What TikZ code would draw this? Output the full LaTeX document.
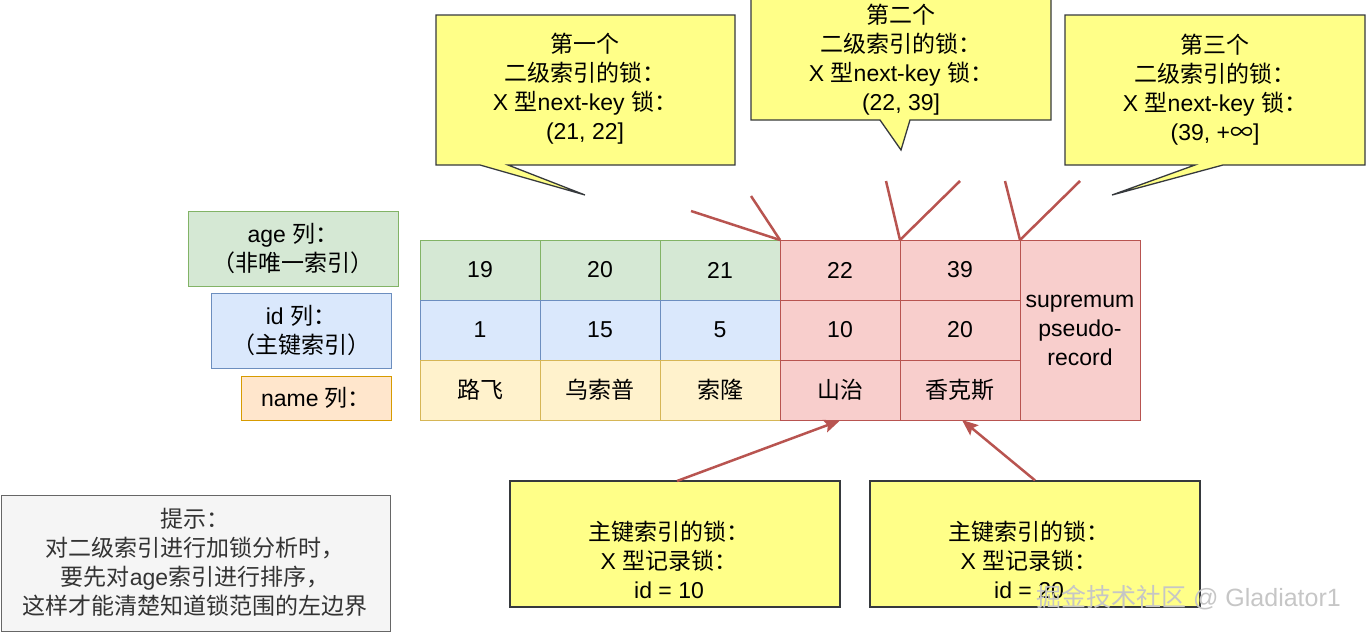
\documentclass[tikz,border=0pt]{standalone}
\usepackage{fontspec}
\setmainfont{Liberation Sans}
\newfontfamily\cjk{Noto Sans CJK SC}
\newcommand{\zh}[1]{{\cjk #1}}
\usetikzlibrary{arrows.meta}
\definecolor{fG}{HTML}{D5E8D4}\definecolor{dG}{HTML}{82B366}
\definecolor{fB}{HTML}{DAE8FC}\definecolor{dB}{HTML}{6C8EBF}
\definecolor{fY}{HTML}{FFF2CC}\definecolor{dY}{HTML}{D6B656}
\definecolor{fR}{HTML}{F8CECC}\definecolor{dR}{HTML}{B85450}
\definecolor{fO}{HTML}{FFE6CC}\definecolor{dO}{HTML}{D79B00}
\definecolor{noteF}{HTML}{FFFF88}\definecolor{noteD}{HTML}{36393D}
\definecolor{hintF}{HTML}{F5F5F5}\definecolor{hintD}{HTML}{666666}
\definecolor{txt}{HTML}{333333}
\tikzset{
  cell/.style={minimum width=120pt, minimum height=60pt, inner sep=0pt, line width=1pt, anchor=center},
  cg/.style={cell, draw=dG, fill=fG},
  cb/.style={cell, draw=dB, fill=fB},
  cy/.style={cell, draw=dY, fill=fY},
  cr/.style={cell, draw=dR, fill=fR},
  notebox/.style={draw=noteD, fill=noteF, line width=1.3pt, line join=miter},
  plain/.style={align=center, inner sep=0pt},
  redline/.style={draw=dR, line width=2.5pt},
  redarrow/.style={draw=dR, line width=2.5pt, -{Stealth[length=16pt,width=13pt,inset=3pt]}},
}
\begin{document}
\begin{tikzpicture}[x=1pt,y=-1pt,font=\fontsize{23}{29}\selectfont]
\useasboundingbox (0,0) rectangle (1367,632);

% labels
\node[draw=dG, fill=fG, line width=1pt, minimum width=210pt, minimum height=75pt, align=center, inner sep=0pt] (lage) at (293,248.5) {age \zh{列：}\\\zh{（非唯一索引）}};
\node[draw=dB, fill=fB, line width=1pt, minimum width=180pt, minimum height=75pt, align=center, inner sep=0pt] (lid) at (301,330.5) {id \zh{列：}\\\zh{（主键索引）}};
\node[draw=dO, fill=fO, line width=1pt, minimum width=150pt, minimum height=44pt, align=center, inner sep=0pt] (lname) at (316,398) {name \zh{列：}};

% table
\node[cg] (a1) at (480,270) {19};
\node[cg] (a2) at (600,270) {20};
\node[cg] (a3) at (720,270) {21};
\node[cb] (b1) at (480,330) {1};
\node[cb] (b2) at (600,330) {15};
\node[cb] (b3) at (720,330) {5};
\node[cy] (n1) at (480,390) {\zh{路飞}};
\node[cy] (n2) at (600,390) {\zh{乌索普}};
\node[cy] (n3) at (720,390) {\zh{索隆}};
\node[cr] (a4) at (840,270) {22};
\node[cr] (a5) at (960,270) {39};
\node[cr] (b4) at (840,330) {10};
\node[cr] (b5) at (960,330) {20};
\node[cr] (n4) at (840,390) {\zh{山治}};
\node[cr] (n5) at (960,390) {\zh{香克斯}};
\node[cr, minimum height=180pt, align=center] (sup) at (1080,330) {supremum\\pseudo-\\record};

% callouts (shapes)
\path[notebox] (436,15) -- (735,15) -- (735,165) -- (508,165) -- (585,195) -- (480,165) -- (436,165) -- cycle;
\path[notebox] (751,-2) -- (1051,-2) -- (1051,120) -- (910,120) -- (901,150) -- (880,120) -- (751,120) -- cycle;
\path[notebox] (1065,15) -- (1365,15) -- (1365,165) -- (1223,165) -- (1112,195) -- (1195,165) -- (1065,165) -- cycle;
\node[plain] (c1) at (585,89) {\zh{第一个}\\\zh{二级索引的锁：}\\X \zh{型}next-key \zh{锁：}\\(21, 22]};
\node[plain] (c2) at (901,60) {\zh{第二个}\\\zh{二级索引的锁：}\\X \zh{型}next-key \zh{锁：}\\(22, 39]};
\node[plain] (c3) at (1215,90) {\zh{第三个}\\\zh{二级索引的锁：}\\X \zh{型}next-key \zh{锁：}\\(39, +\zh{∞}]};

% red lines
\coordinate (k1) at (780,240);
\coordinate (k2) at (900,240);
\coordinate (k3) at (1020,240);
\coordinate (e1) at (691,211);
\coordinate (e2) at (751,196);
\coordinate (e3) at (886,181);
\coordinate (e4) at (960,181);
\coordinate (e5) at (1005,181);
\coordinate (e6) at (1080,181);
\draw[redline] (e1) -- (k1);
\draw[redline] (e2) -- (k1);
\draw[redline] (e3) -- (k2);
\draw[redline] (e4) -- (k2);
\draw[redline] (e5) -- (k3);
\draw[redline] (e6) -- (k3);

% bottom notes
\node[notebox, minimum width=330pt, minimum height=126pt, inner sep=0pt] (p1) at (675,544) {};
\node[notebox, minimum width=330pt, minimum height=126pt, inner sep=0pt] (p2) at (1035,544) {};
\node[plain] at (669,560) {\zh{主键索引的锁：}\\X \zh{型记录锁：}\\id = 10};
\node[plain] at (1029,560) {\zh{主键索引的锁：}\\X \zh{型记录锁：}\\id = 20};
\draw[redarrow] (677,481) -- (n4.south);
\draw[redarrow] (p2.north) -- (962,420);

% hint
\node[draw=hintD, fill=hintF, line width=1pt, minimum width=389pt, minimum height=136pt, inner sep=0pt] (hint) at (195.5,563) {};
\node[plain, text=txt] at (195,562) {\zh{提示：}\\\zh{对二级索引进行加锁分析时，}\\\zh{要先对}age\zh{索引进行排序，}\\\zh{这样才能清楚知道锁范围的左边界}};

% watermark
\node[plain, text=gray!45, font=\fontsize{25}{30}\selectfont, anchor=west] (wm) at (1036,598) {\zh{掘金技术社区} @ Gladiator1};
\end{tikzpicture}
\end{document}
